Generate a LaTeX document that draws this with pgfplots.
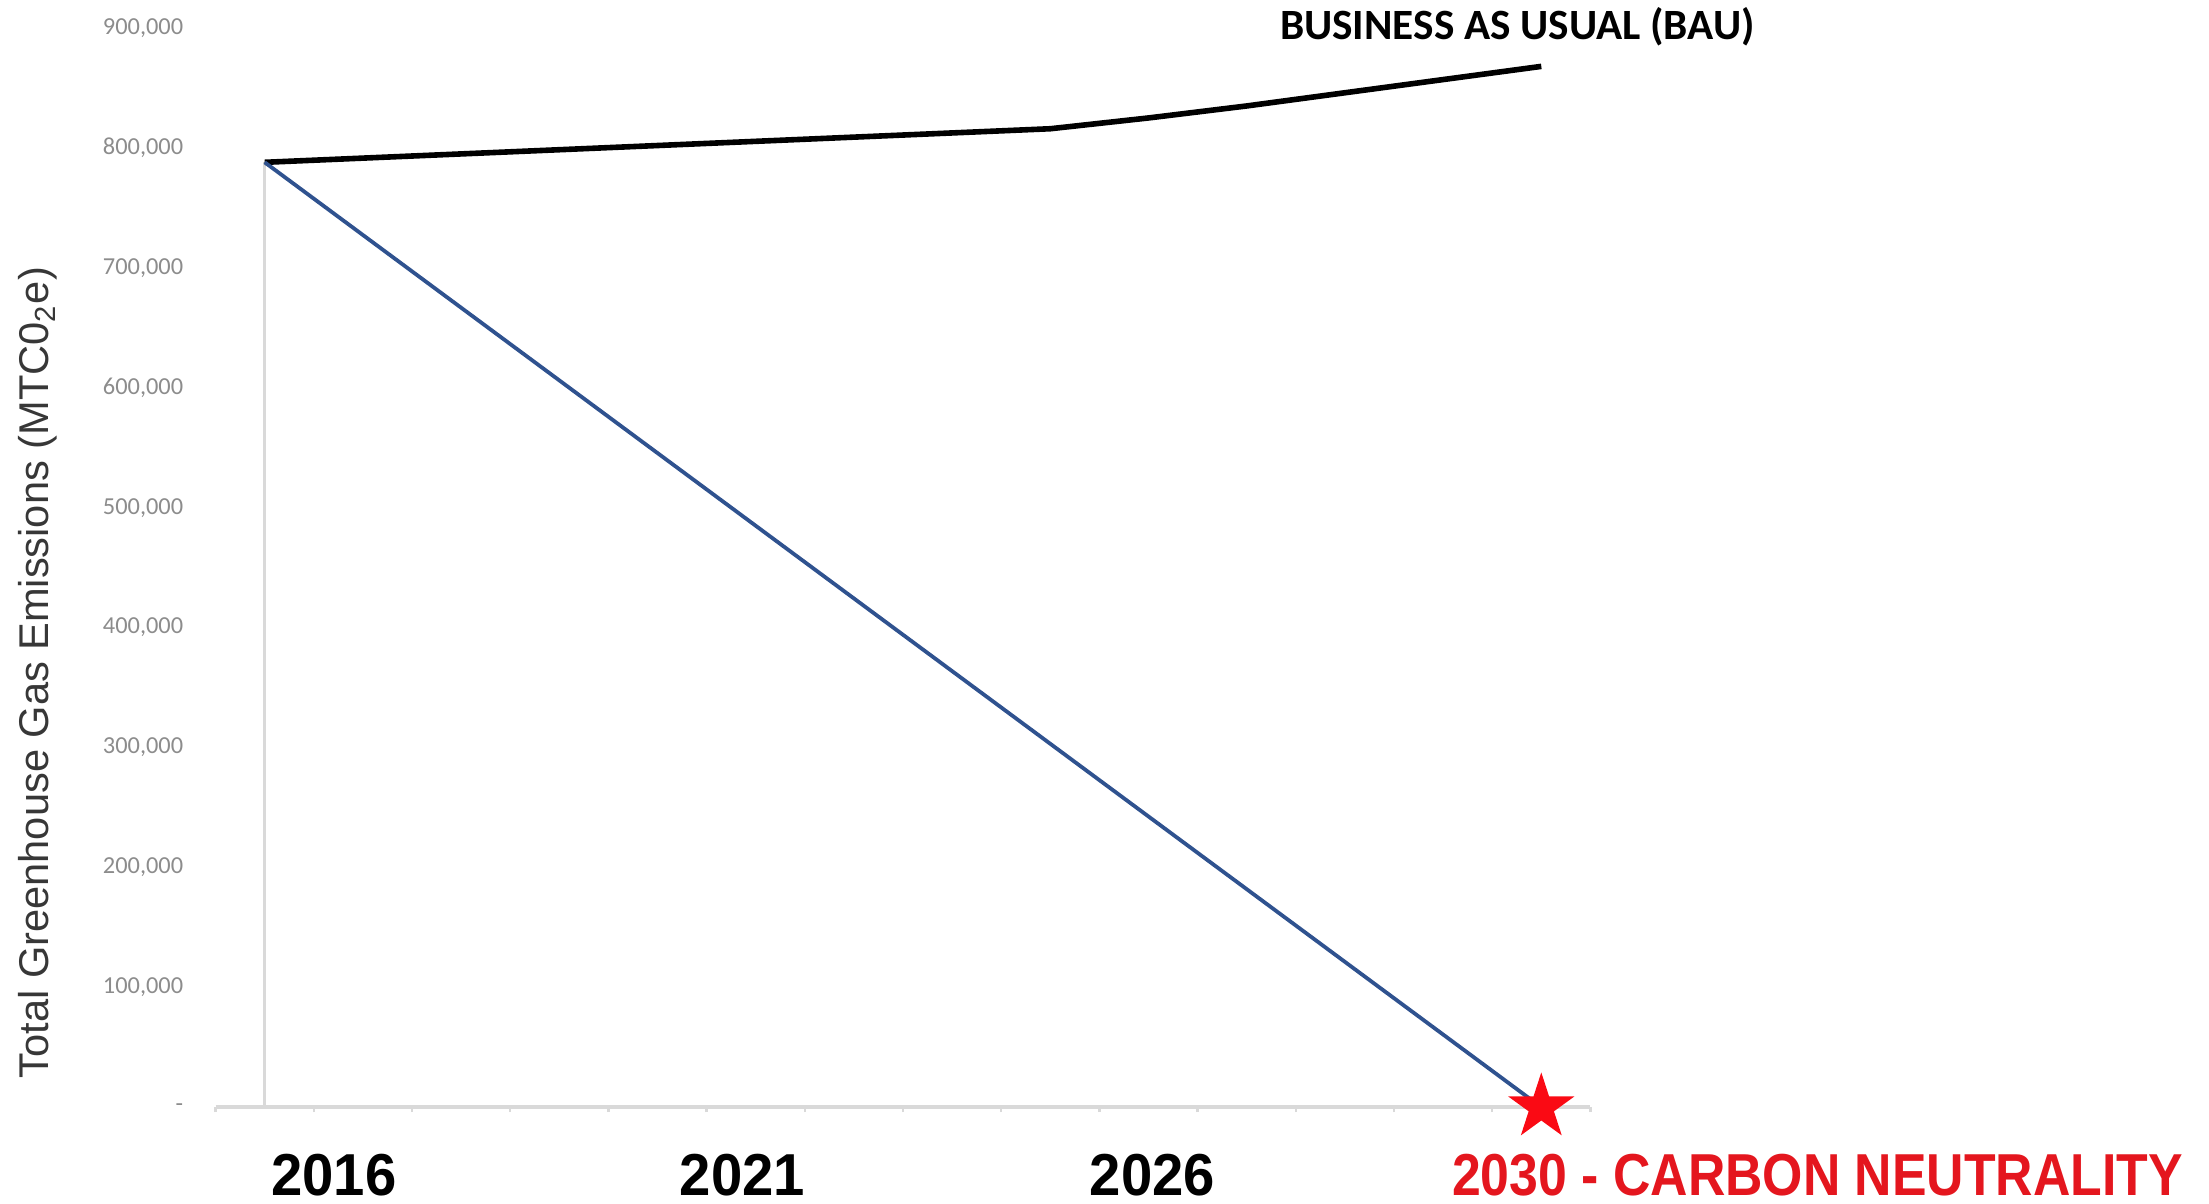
\documentclass[border=0pt]{standalone}
\usepackage{fontspec}
\setmainfont{Liberation Sans}
\newfontfamily\carlito{Carlito}
\newfontfamily\yearfont[FakeStretch=0.95]{Liberation Sans}
\newfontfamily\redfont[FakeStretch=0.875]{Liberation Sans}
\usepackage{pgfplots}
\pgfplotsset{compat=1.18}

\definecolor{targetblue}{RGB}{47,82,143}
\definecolor{starred}{RGB}{250,10,20}
\definecolor{textred}{RGB}{228,22,30}
\definecolor{axisgray}{RGB}{217,217,217}
\definecolor{ticklab}{RGB}{140,140,140}
\definecolor{labgray}{RGB}{55,55,55}

% filled five-pointed star
\pgfdeclareplotmark{fstar}{%
  \pgfpathmoveto{\pgfpointpolar{90}{\pgfplotmarksize}}%
  \pgfpathlineto{\pgfpointpolar{126}{0.382*\pgfplotmarksize}}%
  \pgfpathlineto{\pgfpointpolar{162}{\pgfplotmarksize}}%
  \pgfpathlineto{\pgfpointpolar{198}{0.382*\pgfplotmarksize}}%
  \pgfpathlineto{\pgfpointpolar{234}{\pgfplotmarksize}}%
  \pgfpathlineto{\pgfpointpolar{270}{0.382*\pgfplotmarksize}}%
  \pgfpathlineto{\pgfpointpolar{306}{\pgfplotmarksize}}%
  \pgfpathlineto{\pgfpointpolar{342}{0.382*\pgfplotmarksize}}%
  \pgfpathlineto{\pgfpointpolar{18}{\pgfplotmarksize}}%
  \pgfpathlineto{\pgfpointpolar{54}{0.382*\pgfplotmarksize}}%
  \pgfpathclose
  \pgfusepathqfill
}

% x = year index (0 = 2016 ... 13 = 2030)
\pgfplotstableread{
idx bau     target
0   788000  788000
1   791500  727385
2   795000  666769
3   798500  606154
4   802000  545538
5   805500  484923
6   809000  424308
7   812500  363692
8   816000  303077
9   825000  242462
10  835000  181846
11  846000  121231
12  857000  60615
13  868000  0
}\emissions

\begin{document}
\begin{tikzpicture}
  \useasboundingbox (0,0) rectangle (552.25pt,300.75pt);
  \begin{axis}[
      at={(53.9pt,23.95pt)}, anchor=south west,
      scale only axis,
      width=343.7pt, height=269.8pt,
      xmin=-0.5, xmax=13.5,
      ymin=0, ymax=900000,
      clip=false,
      axis x line*=bottom,
      axis y line*=left,
      y axis line style={draw=none},
      x axis line style={draw=axisgray, line width=0.9pt},
      xtick={-0.5,0.5,...,13.5},
      xticklabels={},
      x tick style={draw=axisgray, line width=0.6pt},
      tick align=outside,
      major tick length=1.2pt,
      ytick={0,100000,...,900000},
      scaled y ticks=false,
      y tick style={draw=none},
      yticklabels={{-\hspace{5pt}},{100,000},{200,000},{300,000},{400,000},
        {500,000},{600,000},{700,000},{800,000},{900,000}},
      yticklabel style={font=\carlito\fontsize{6.1}{7}\selectfont,
        text=ticklab, anchor=east, inner sep=0pt, xshift=-6.7pt},
    ]
    % light drop line under the 2016 point
    \addplot[axisgray, line width=0.8pt] coordinates {(0,0) (0,788000)};
    \addplot[black, line width=1.4pt, line join=round] table[x=idx, y=bau] {\emissions};
    \addplot[targetblue, line width=0.95pt] table[x=idx, y=target] {\emissions};
    \addplot[only marks, mark=fstar, mark size=8.7pt, starred] coordinates {(13,0)};
  \end{axis}

  \node[rotate=90, text=labgray, font=\fontsize{10.4}{12}\selectfont]
    at (9.5pt,132.6pt) {Total Greenhouse Gas Emissions (MTC0\textsubscript{2}e)};
  \node[anchor=base west, inner sep=0pt, font=\carlito\bfseries\fontsize{10.8}{12}\selectfont]
    at (319.8pt,290.9pt) {BUSINESS AS USUAL (BAU)};
  \begin{scope}[every node/.style={anchor=base, inner sep=0pt,
      font=\yearfont\bfseries\fontsize{14.8}{16}\selectfont}]
    \node at (83.5pt,2pt) {2016};
    \node at (185.6pt,2pt) {2021};
    \node at (288.1pt,2pt) {2026};
  \end{scope}
  \node[anchor=base west, inner sep=0pt, text=textred,
    font=\redfont\bfseries\fontsize{14.8}{16}\selectfont]
    at (362.8pt,2pt) {2030 - CARBON NEUTRALITY};
\end{tikzpicture}
\end{document}
